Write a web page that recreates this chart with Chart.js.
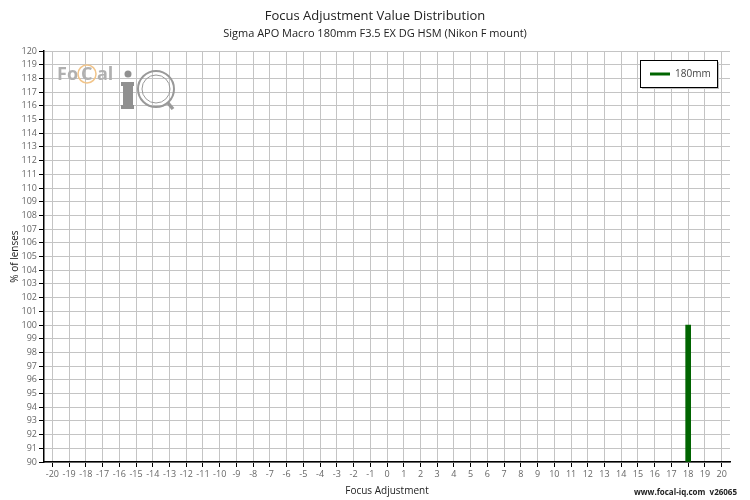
<!DOCTYPE html>
<html>
<head>
<meta charset="utf-8">
<script src="https://cdn.jsdelivr.net/npm/chart.js@4/dist/chart.umd.min.js"></script>
<style>
  body { margin: 0; background: #fff; }
  #wrap { width: 750px; height: 500px; }
</style>
</head>
<body>
<div id="wrap"><canvas id="chart1" width="750" height="500"></canvas></div>
<script>
const ctx1 = document.getElementById('chart1').getContext('2d');

// data
const title = 'Focus Adjustment Value Distribution';
const subtitle = 'Sigma APO Macro 180mm F3.5 EX DG HSM (Nikon F mount)';
const seriesLabel = '180mm';
const adjustments = [18];
const percentLenses = [100];
const xTickMin = -20, xTickMax = 20;
const yTickMin = 90, yTickMax = 120;

const FONT = "'Open Sans', 'DejaVu Sans', sans-serif";

// integer ticks only (axis runs half a step past each end)
function integerTicks(scale) {
  const ticks = [];
  for (let v = Math.ceil(scale.min); v <= Math.floor(scale.max); v++) ticks.push({ value: v });
  scale.ticks = ticks;
}

// title, logo, legend box and footer drawn by hand
const decorPlugin = {
  id: 'decor',
  beforeDatasetsDraw(chart) {
    const c = chart.ctx;
    c.save();
    // logo
    c.font = 'bold 18px ' + FONT;
    c.fillStyle = '#b0b0b0';
    c.textBaseline = 'alphabetic';
    c.fillText('Fo', 57, 80);
    c.fillText('al', 97, 80);
    c.strokeStyle = '#f2c58a';
    c.lineWidth = 1.5;
    c.beginPath(); c.arc(87, 74, 9, 0, Math.PI * 2); c.stroke();
    c.fillStyle = '#b0b0b0';
    c.fillText('C', 81, 80);
    c.fillStyle = '#909090';
    c.beginPath(); c.arc(128, 74, 3.5, 0, Math.PI * 2); c.fill();
    c.fillRect(121, 82, 13, 4);
    c.fillRect(123, 82, 10, 27);
    c.fillRect(121, 105, 13, 4);
    c.strokeStyle = '#999';
    c.lineWidth = 2;
    c.beginPath(); c.arc(156, 89, 18, 0, Math.PI * 2); c.stroke();
    c.lineWidth = 1;
    c.beginPath(); c.arc(156, 89, 14, 0, Math.PI * 2); c.stroke();
    c.lineWidth = 3.5;
    c.beginPath(); c.moveTo(168, 103); c.lineTo(173, 109); c.stroke();
    c.restore();
  },
  afterDraw(chart) {
    const c = chart.ctx;
    c.save();
    c.fillStyle = '#222';
    c.textAlign = 'center';
    c.textBaseline = 'middle';
    c.font = '13px ' + FONT;
    c.fillText(title, 375, 16);
    c.font = '11px ' + FONT;
    c.fillText(subtitle, 375, 34);

    // legend box
    const ds = chart.data.datasets[0];
    c.fillStyle = '#bbb';
    c.fillRect(642, 62, 77, 27);
    c.fillStyle = '#fff';
    c.fillRect(640, 60, 77, 27);
    c.strokeStyle = '#000';
    c.lineWidth = 1;
    c.strokeRect(640.5, 60.5, 77, 27);
    c.strokeStyle = ds.backgroundColor;
    c.lineWidth = 3;
    c.beginPath(); c.moveTo(650, 74); c.lineTo(670, 74); c.stroke();
    c.fillStyle = '#444';
    c.textAlign = 'left';
    c.font = '10px ' + FONT;
    c.fillText(ds.label, 675, 74);

    // footer
    c.fillStyle = '#222';
    c.textAlign = 'right';
    c.font = 'bold 8px ' + FONT;
    c.fillText('www.focal-iq.com  v26065', 737, 493);
    c.restore();
  }
};

new Chart(ctx1, {
  type: 'bar',
  data: {
    datasets: [
      {
        label: seriesLabel,
        data: adjustments.map((x, i) => ({ x: x, y: percentLenses[i] })),
        backgroundColor: '#006400',
        borderColor: '#006400',
        borderWidth: 0,
        barThickness: 5,
        base: yTickMin,
      },
    ],
  },
  options: {
    responsive: false,
    animation: false,
    layout: { padding: { left: 9, right: 20, top: 51, bottom: 3 } },
    plugins: {
      legend: { display: false },
      title: { display: false },
      tooltip: { enabled: false },
    },
    scales: {
      x: {
        type: 'linear',
        offset: false,
        min: xTickMin - 0.5,
        max: xTickMax + 0.5,
        afterFit: (scale) => { scale.height = 35; },
        afterBuildTicks: integerTicks,
        ticks: {
          autoSkip: false,
          maxRotation: 0,
          color: '#666',
          padding: 2,
          font: { family: FONT, size: 9 },
        },
        grid: { offset: false, color: '#c4c4c4', tickColor: '#000', tickLength: 5, lineWidth: 1 },
        border: { color: '#000', width: 1.5 },
        title: {
          display: true,
          text: 'Focus Adjustment',
          color: '#222',
          font: { family: FONT, size: 10 },
          padding: { top: 0, bottom: 0 },
        },
      },
      y: {
        min: yTickMin,
        max: yTickMax,
        afterFit: (scale) => { scale.width = 35; },
        afterBuildTicks: integerTicks,
        ticks: {
          autoSkip: false,
          color: '#666',
          padding: 2,
          font: { family: FONT, size: 9 },
        },
        grid: { color: '#c4c4c4', tickColor: '#000', tickLength: 5, lineWidth: 1 },
        border: { color: '#000', width: 1.5 },
        title: {
          display: true,
          text: '% of lenses',
          color: '#222',
          font: { family: FONT, size: 10 },
          padding: { top: 0, bottom: 0 },
        },
      },
    },
  },
  plugins: [decorPlugin],
});
</script>
</body>
</html>
